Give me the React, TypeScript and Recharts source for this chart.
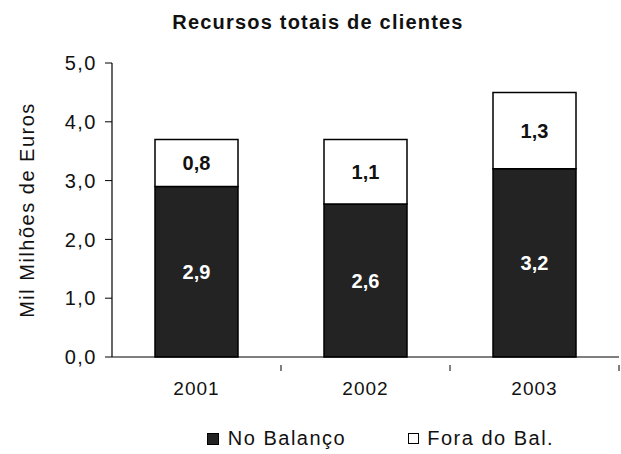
import { BarChart, Bar, XAxis, YAxis, LabelList } from 'recharts';

const years = ['2001', '2002', '2003'];
const noBalanco = [2.9, 2.6, 3.2];
const foraDoBal = [0.8, 1.1, 1.3];
const yTicks = [0, 1, 2, 3, 4, 5];

const data = years.map((year, i) => ({
  year,
  noBalanco: noBalanco[i],
  foraDoBal: foraDoBal[i],
}));

const FONT = '"Liberation Sans", Arial, sans-serif';
const DARK = '#232323';

const fmt = (v: unknown) => Number(v).toFixed(1).replace('.', ',');

const XTick = (props: any) => {
  const { x, y, payload } = props;
  const half = payload?.offset ?? 0;
  return (
    <g>
      <line x1={x + half} x2={x + half} y1={y} y2={y + 6} stroke="#000" strokeWidth={1} />
      <text
        x={x}
        y={y + 30}
        textAnchor="middle"
        fontSize={19}
        fontFamily={FONT}
        letterSpacing={1}
        fill="#111"
      >
        {payload.value}
      </text>
    </g>
  );
};

const LegendBox = () => (
  <div
    style={{
      position: 'absolute',
      left: 0,
      top: 427,
      width: 621,
      display: 'flex',
      justifyContent: 'center',
      gap: 62,
      fontFamily: FONT,
      fontSize: 20,
      letterSpacing: 1.5,
      color: '#111',
      paddingLeft: 140,
      boxSizing: 'border-box',
    }}
  >
    <span style={{ display: 'flex', alignItems: 'center' }}>
      <span style={{ width: 10, height: 10, background: DARK, border: '1px solid #000', marginRight: 9 }} />
      No Balanço
    </span>
    <span style={{ display: 'flex', alignItems: 'center' }}>
      <span style={{ width: 9, height: 9, background: '#fff', border: '1.5px solid #000', marginRight: 8 }} />
      Fora do Bal.
    </span>
  </div>
);

export default function App() {
  return (
    <div style={{ position: 'absolute', left: 0, top: 0, width: 621, height: 454, background: '#fff' }}>
      <div
        style={{
          position: 'absolute',
          top: 11,
          left: 0,
          width: 636,
          textAlign: 'center',
          fontFamily: FONT,
          fontWeight: 'bold',
          fontSize: 20,
          letterSpacing: 1.2,
          color: '#111',
        }}
      >
        Recursos totais de clientes
      </div>
      <BarChart
        width={621}
        height={454}
        data={data}
        margin={{ top: 63, right: 2, left: 0, bottom: 0 }}
        barSize={83}
      >
        <XAxis
          dataKey="year"
          tick={<XTick />}
          tickLine={false}
          axisLine={{ stroke: '#000', strokeWidth: 1.2 }}
          height={97}
        />
        <YAxis
          width={112}
          domain={[0, 5]}
          ticks={yTicks}
          tickFormatter={fmt}
          tick={{ fontSize: 20, fontFamily: FONT, fill: '#111', letterSpacing: 1.5 }}
          tickLine={{ stroke: '#000' }}
          tickSize={7}
          tickMargin={8}
          axisLine={{ stroke: '#000', strokeWidth: 1.2 }}
          label={{
            value: 'Mil Milhões de Euros',
            angle: -90,
            position: 'insideLeft',
            dx: 22,
            dy: 0,
            style: { fontSize: 20, fontFamily: FONT, fill: '#111', letterSpacing: 1.5, textAnchor: 'middle' },
          }}
        />
        <Bar dataKey="noBalanco" stackId="a" fill={DARK} stroke="#000" strokeWidth={1.5} isAnimationActive={false}>
          <LabelList
            dataKey="noBalanco"
            position="center"
            formatter={fmt}
            style={{ fill: '#fff', fontWeight: 'bold', fontSize: 20, fontFamily: FONT }}
          />
        </Bar>
        <Bar dataKey="foraDoBal" stackId="a" fill="#fff" stroke="#000" strokeWidth={1.5} isAnimationActive={false}>
          <LabelList
            dataKey="foraDoBal"
            position="center"
            formatter={fmt}
            style={{ fill: '#111', fontWeight: 'bold', fontSize: 20, fontFamily: FONT }}
          />
        </Bar>
      </BarChart>
      <LegendBox />
    </div>
  );
}
